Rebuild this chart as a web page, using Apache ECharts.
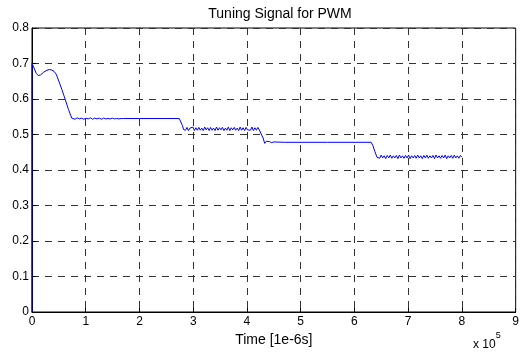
<!DOCTYPE html>
<html><head><meta charset="utf-8">
<script src="https://cdn.jsdelivr.net/npm/echarts@6/dist/echarts.min.js"></script>
<style>html,body{margin:0;padding:0;background:#fff}#c{width:522px;height:358px}</style>
</head><body><div id="c"></div>
<script>
// Times in 1e-6 s, values = PWM tuning signal
const startPts = [[0,0],[0,0.700],[3000,0.690],[8000,0.672],[11600,0.666],[16000,0.668],[22000,0.676],[28000,0.681],[32000,0.683],[36000,0.682],[41000,0.678],[45000,0.670],[50000,0.650],[56000,0.625],[62000,0.598],[68000,0.570],[74000,0.546],[75000,0.544]];
// segment 1 (0.545 plateau) small wiggle
const seg1Start = 76000, seg1End = 170000;
const seg1Vals = [0.546,0.543,0.547,0.544,0.546,0.543,0.546,0.544,0.547,0.543,0.546,0.544,0.546,0.543,0.546,0.544,0.545,0.544,0.546,0.544,0.545,0.544,0.545,0.545];
const plateau1 = [[200000,0.545],[240000,0.545],[274000,0.545]];
const drop1 = [[276000,0.540],[280000,0.525],[282000,0.514]];
// segment 2 ripple (0.515)
const seg2Start = 283000, seg2End = 423000;
const seg2Vals = [0.519,0.512,0.520,0.511,0.518,0.513,0.521,0.511,0.519,0.512,0.520,0.512,0.518,0.511,0.521,0.513,0.519,0.511,0.520,0.512,0.518,0.511,0.521,0.512,0.519,0.513,0.520,0.511,0.518,0.512,0.521,0.511,0.519,0.513,0.520,0.512,0.518,0.511,0.521,0.512,0.519,0.511,0.520,0.513,0.518,0.512,0.521,0.511,0.519,0.512,0.520,0.513];
const drop2 = [[425000,0.508],[430000,0.490],[433000,0.475],[436000,0.481],[439000,0.476],[442000,0.480],[446000,0.477],[450000,0.479],[470000,0.478],[550000,0.478],[631000,0.478]];
const drop3 = [[634000,0.470],[638000,0.452],[642000,0.436]];
// segment 4 ripple (0.437)
const seg4Start = 644000, seg4End = 800000;
const seg4Vals = [0.441,0.433,0.442,0.434,0.440,0.432,0.441,0.434,0.442,0.433,0.440,0.434,0.441,0.432,0.442,0.434,0.440,0.433,0.441,0.434,0.442,0.432,0.440,0.434,0.441,0.433,0.442,0.434,0.440,0.432,0.441,0.434,0.442,0.433,0.440,0.434,0.441,0.432,0.442,0.434,0.440,0.433,0.441,0.434,0.442,0.432,0.440,0.434,0.441,0.433,0.442,0.434,0.440,0.433,0.441,0.436];
const xTicks = [0,1,2,3,4,5,6,7,8,9];
const yTicks = [0,0.1,0.2,0.3,0.4,0.5,0.6,0.7,0.8];

function sampled(s,e,vals){const n=vals.length;return vals.map((v,i)=>[s+(e-s)*i/(n-1),v]);}
const data = [].concat(startPts, sampled(seg1Start,seg1End,seg1Vals), plateau1, drop1,
  sampled(seg2Start,seg2End,seg2Vals), drop2, drop3, sampled(seg4Start,seg4End,seg4Vals));

const font = 'Liberation Sans, Arial, Helvetica, sans-serif';
const chart = echarts.init(document.getElementById('c'), null, {renderer:'canvas'});
chart.setOption({
  animation:false,
  backgroundColor:'#fff',
  title:{text:'Tuning Signal for PWM',left:275,top:2,textAlign:'center',
    textStyle:{fontFamily:font,fontSize:14,fontWeight:'normal',color:'#000'}},
  grid:{left:32,right:3,top:28,bottom:46,show:true,borderColor:'#000',borderWidth:1,backgroundColor:'#fff'},
  xAxis:{type:'value',min:0,max:900000,interval:100000,
    name:'Time [1e-6s]',nameLocation:'middle',nameGap:20,
    nameTextStyle:{fontFamily:font,fontSize:14,color:'#000'},
    axisLine:{show:true,onZero:false,lineStyle:{color:'#000',width:1}},
    axisTick:{show:true,inside:true,length:4,lineStyle:{color:'#000'}},
    axisLabel:{fontFamily:font,fontSize:12,color:'#000',margin:4,
      formatter:v=>String(xTicks[Math.round(v/100000)])},
    splitLine:{show:true,lineStyle:{color:'#333',type:[7,6],width:1}}},
  yAxis:{type:'value',min:0,max:0.8,interval:0.1,
    axisLine:{show:true,lineStyle:{color:'#000',width:1}},
    axisTick:{show:true,inside:true,length:4,lineStyle:{color:'#000'}},
    axisLabel:{fontFamily:font,fontSize:12,color:'#000',margin:3,
      formatter:v=>{const t=yTicks[Math.round(v*10)];return t===0?'0':String(t);}},
    splitLine:{show:true,lineStyle:{color:'#333',type:[7,6],width:1}}},
  graphic:[{type:'text',left:473,top:331,style:{
    text:'{a|x 10}{b|5}',rich:{a:{fontFamily:font,fontSize:12,fill:'#000',padding:[8,0,0,0]},b:{fontFamily:font,fontSize:9,fill:'#000',verticalAlign:'top'}}}}],
  series:[{type:'line',data:data,showSymbol:false,clip:false,
    lineStyle:{color:'#0000ff',width:1},itemStyle:{color:'#0000ff'}}]
});
</script></body></html>
